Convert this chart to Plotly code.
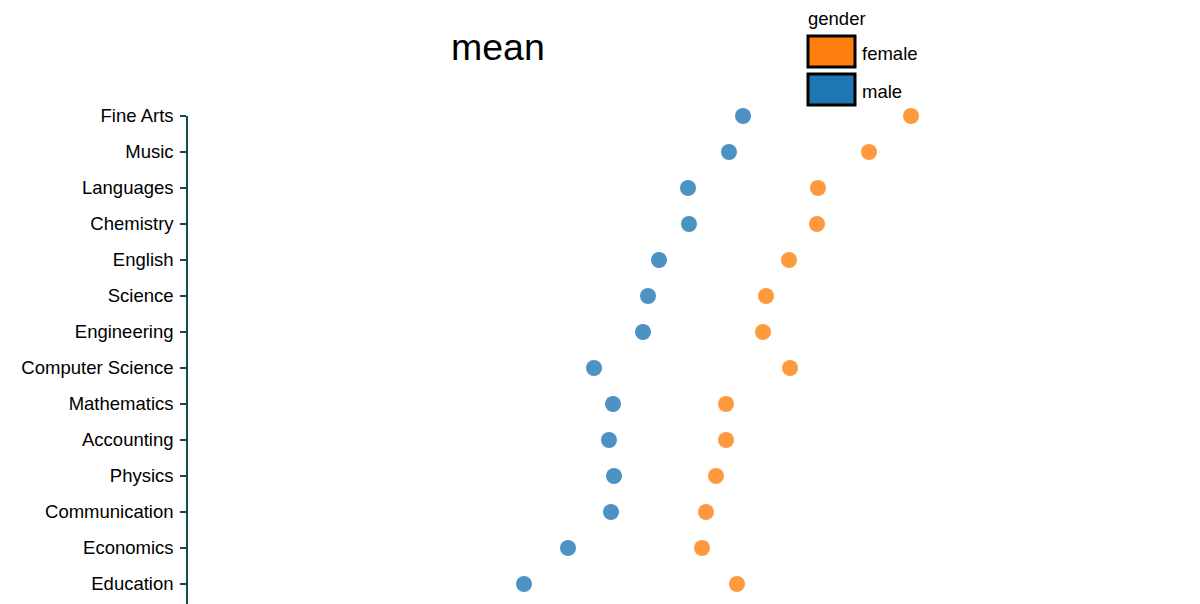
import plotly.graph_objects as go

# subjects, top to bottom
subjects = ["Fine Arts", "Music", "Languages", "Chemistry", "English", "Science",
            "Engineering", "Computer Science", "Mathematics", "Accounting",
            "Physics", "Communication", "Economics", "Education"]

# mean per gender (arbitrary units)
male_mean = [555, 541, 500, 501, 471, 460, 455, 406, 425, 421, 426, 423, 380, 336]
female_mean = [723, 681, 630, 629, 601, 578, 575, 602, 538, 538, 528, 518, 514, 549]

W, H = 1200, 604
OFF = 8  # page body margin
L, T = 180, 108
teal = "#164b4b"
orange = "#ff7f0e"
blue = "#1f77b4"


def px(x):
    return (x - OFF - L) / (W - L)


def py(y):
    return 1 - (y - OFF - T) / (H - T)


fig = go.Figure()
fig.add_trace(go.Scatter(x=male_mean, y=subjects, mode="markers", name="male",
                         marker=dict(color=blue, size=16, opacity=0.8, line=dict(width=0)),
                         cliponaxis=False))
fig.add_trace(go.Scatter(x=female_mean, y=subjects, mode="markers", name="female",
                         marker=dict(color=orange, size=16, opacity=0.8, line=dict(width=0)),
                         cliponaxis=False))

# legend drawn by hand: big boxed swatches
shapes = []
annotations = []
for i, (lab, col) in enumerate([("female", orange), ("male", blue)]):
    y0 = 36 + i * 38
    shapes.append(dict(type="rect", xref="paper", yref="paper",
                       x0=px(808), x1=px(855), y0=py(y0), y1=py(y0 + 31),
                       fillcolor=col, line=dict(color="black", width=3)))
    annotations.append(dict(text=lab, xref="paper", yref="paper", x=px(860), y=py(y0 + 17),
                            xanchor="left", yanchor="middle", showarrow=False,
                            font=dict(size=18.5, color="black")))
annotations.append(dict(text="gender", xref="paper", yref="paper", x=px(806), y=py(18),
                        xanchor="left", yanchor="middle", showarrow=False,
                        font=dict(size=18.5, color="black")))
annotations.append(dict(text="mean", xref="paper", yref="paper", x=px(498), y=py(47),
                        xanchor="center", yanchor="middle", showarrow=False,
                        font=dict(size=37.5, color="black")))

fig.update_layout(
    width=W, height=H,
    margin=dict(l=L, r=0, t=T, b=0),
    paper_bgcolor="white", plot_bgcolor="white",
    font=dict(family="Liberation Sans, Arial, sans-serif", color="black"),
    showlegend=False,
    shapes=shapes,
    annotations=annotations,
)
fig.update_xaxes(visible=False, range=[0, W - L])
fig.update_yaxes(
    type="category", categoryorder="array", categoryarray=subjects,
    range=[(H - T) / 36, 0],
    showline=True, linecolor=teal, linewidth=1.5,
    ticks="outside", ticklen=6, tickcolor=teal, tickwidth=1.5,
    ticklabelstandoff=3,
    showgrid=False, zeroline=False,
    tickfont=dict(size=18.5, color="black"),
)

fig.write_html("out.html")
